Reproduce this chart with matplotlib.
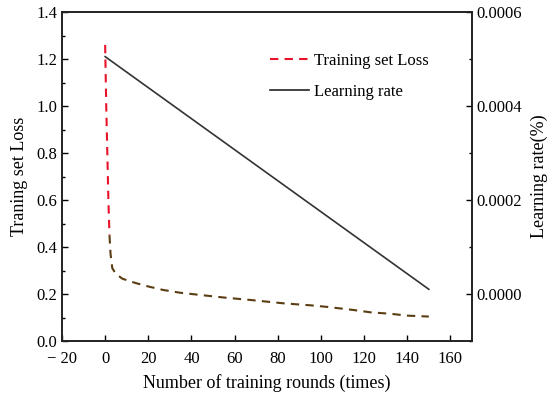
import matplotlib
matplotlib.use("Agg")
import matplotlib.pyplot as plt
import numpy as np
from matplotlib.ticker import MultipleLocator
from matplotlib.lines import Line2D

plt.rcParams['font.family'] = ['Liberation Serif', 'DejaVu Serif']

# Data
loss_rounds = [0, 0.5, 1, 1.5, 2, 2.5, 3.3, 5, 8, 14, 20, 27, 35, 44, 55, 68, 83, 95, 103, 115, 123, 132, 140, 150]
loss_values = [1.26, 1.0, 0.8, 0.6, 0.45, 0.37, 0.31, 0.285, 0.265, 0.247, 0.232, 0.217, 0.205, 0.196, 0.185, 0.174, 0.16, 0.152, 0.145, 0.132, 0.122, 0.116, 0.108, 0.104]
lr_rounds = [0, 150]
lr_values = [0.000505, 0.00001]
red_cut = 0.55

fig = plt.figure(figsize=(5.5, 3.95), dpi=100)
ax = fig.add_axes([62/550, 1-341/395, (472-62)/550, (341-12)/395])
ax2 = ax.twinx()

lr = np.array(loss_rounds); lv = np.array(loss_values)
idx = np.where(lv >= red_cut)[0]
n = idx[-1] + 1
ax.plot(lr[:n+1], lv[:n+1], color='#e8132a', lw=1.5, ls=(0, (4, 3)), zorder=3)
ax.plot(lr[n:], lv[n:], color='#5b3d12', lw=1.5, ls=(0, (4, 3)), zorder=3)
ax2.plot(lr_rounds, lr_values, color='#333333', lw=1.2)

ax.set_xlim(-20, 170)
ax.set_ylim(0, 1.4)
ax2.set_ylim(-0.0001, 0.0006)
ax.set_xticks(np.arange(-20, 161, 20))
ax.set_xticklabels(["\u2212 20" if v == -20 else str(v) for v in range(-20, 161, 20)])
ax.set_yticks(np.arange(0, 1.41, 0.2))
ax.set_yticklabels([f"{v:.1f}" for v in np.arange(0, 1.41, 0.2)])
ax.yaxis.set_minor_locator(MultipleLocator(0.1))
ax2.set_yticks([0, 0.0002, 0.0004, 0.0006])
ax2.set_yticklabels(["0.0000", "0.0002", "0.0004", "0.0006"])
ax2.yaxis.set_minor_locator(MultipleLocator(0.0001))

for a in (ax, ax2):
    a.tick_params(direction='in', labelsize=12, length=4, width=1, top=False)
    a.tick_params(which='minor', direction='in', length=2.5, width=1, top=False, bottom=False)
    for s in a.spines.values():
        s.set_linewidth(1.2)
        s.set_color('#222222')
ax.tick_params(axis='x', pad=7)

ax.set_xlabel("Number of training rounds (times)", fontsize=13, labelpad=5)
ax.set_ylabel("Traning set Loss", fontsize=13, labelpad=6)
ax2.set_ylabel("Learning rate(%)", fontsize=13, labelpad=6)

handles = [Line2D([], [], color='#e8132a', lw=1.5, ls=(0, (4, 3))),
           Line2D([], [], color='#222222', lw=1.2)]
ax.legend(handles, ["Training set Loss", "Learning rate"], frameon=False, fontsize=12,
          loc='upper right', bbox_to_anchor=(0.93, 0.92), handlelength=2.3,
          handletextpad=0.3, labelspacing=0.9)

fig.savefig("out.png", dpi=100)
